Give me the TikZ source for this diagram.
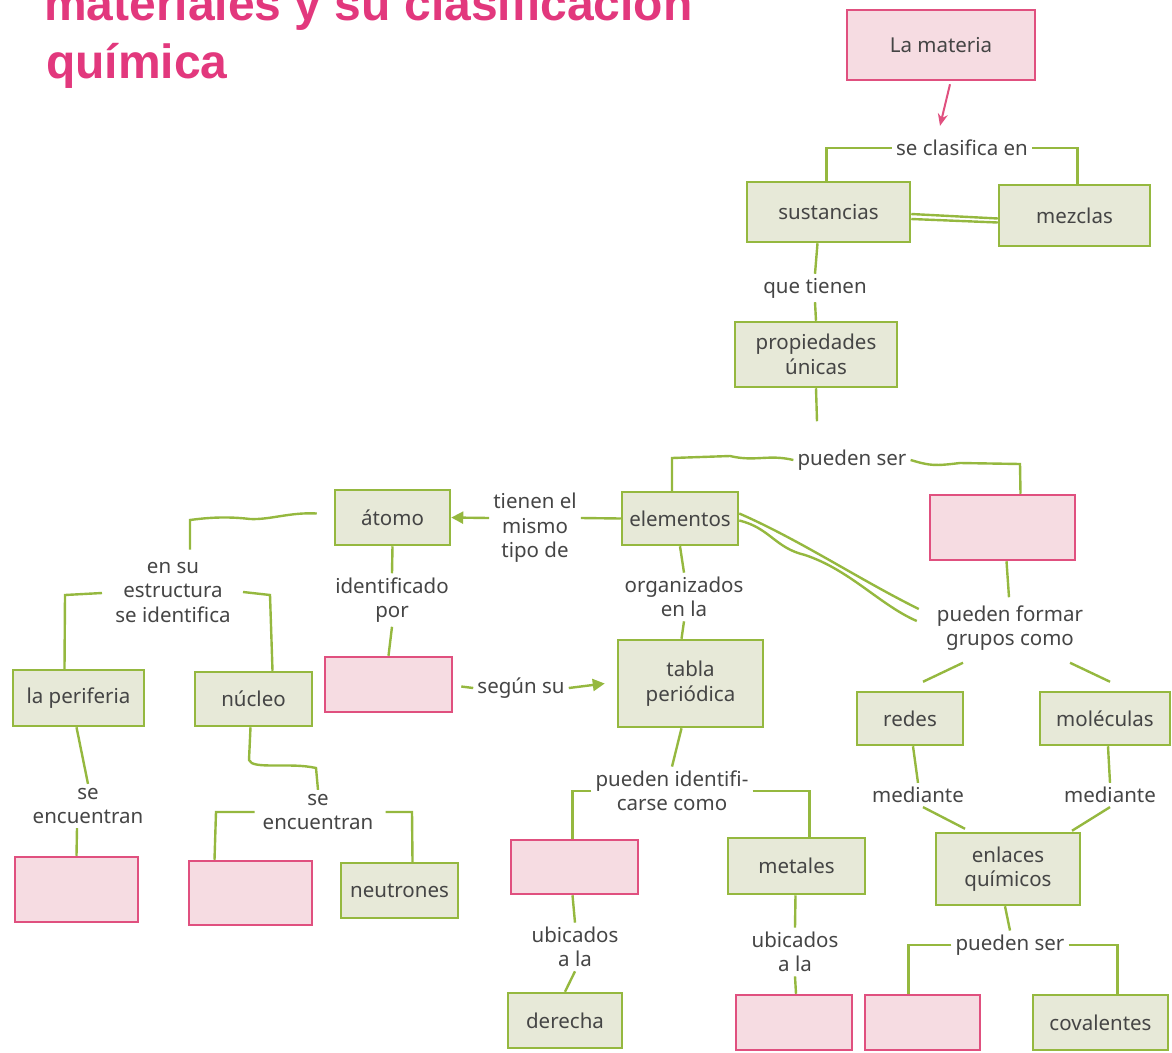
\documentclass[tikz,border=0pt]{standalone}
\usepackage{fontspec}
\setmainfont{Noto Sans}
\newfontfamily\titlefont{Liberation Sans}
\usetikzlibrary{calc,arrows.meta}
\definecolor{gline}{HTML}{95B83F}
\definecolor{gfill}{HTML}{E7E9D8}
\definecolor{pline}{HTML}{E0507F}
\definecolor{pfill}{HTML}{F6DCE2}
\definecolor{ttl}{HTML}{E2387D}
\definecolor{txt}{HTML}{454545}
\newcommand\lbl{\fontsize{20.5}{24.5}\selectfont}
\tikzset{
  box/.style={draw, line width=2.5pt, inner sep=0pt, align=center, text=txt, font=\lbl},
  gbox/.style={box, draw=gline, fill=gfill},
  pbox/.style={box, draw=pline, fill=pfill},
  sz/.style 2 args={minimum width=#1pt, minimum height=#2pt},
  lab/.style={text=txt, font=\lbl, align=center, inner sep=4pt},
  link/.style={draw=gline, line width=2.4pt},
  garrow/.style={link, -{Triangle[length=12pt,width=12pt]}},
  parrow/.style={draw=pline, line width=2pt, -{Stealth[length=12pt,width=10pt]}},
}
\begin{document}
\begin{tikzpicture}[x=1pt,y=-1pt]
\useasboundingbox (0,0) rectangle (1172,1052);

% title (its first line runs off the top edge)
\node[anchor=base west, inner sep=0pt, text=ttl, font=\titlefont\bfseries\fontsize{48}{58}\selectfont] (t1) at (44,20) {materiales y su clasificación};
\node[anchor=base west, inner sep=0pt, text=ttl, font=\titlefont\bfseries\fontsize{48}{58}\selectfont] (t2) at (46,78) {química};

% concept boxes
\node[pbox, sz={188}{70}] (mat) at (941,45) {La materia};
\node[gbox, sz={163}{60}] (sust) at (828.5,212) {sustancias};
\node[gbox, sz={151}{61}] (mez) at (1074.5,215.5) {mezclas};
\node[gbox, sz={162}{65}] (prop) at (816,354.5) {propiedades\\únicas};
\node[gbox, sz={116}{53}] (elem) at (680,518.5) {elementos};
\node[pbox, sz={145}{65}] (pk1) at (1002.5,527.5) {};
\node[gbox, sz={115}{55}] (atomo) at (392.5,517.5) {átomo};
\node[pbox, sz={127}{55}] (pk2) at (388.5,684.5) {};
\node[gbox, sz={145}{87}] (tabla) at (690.5,683.5) {tabla\\periódica};
\node[gbox, sz={131}{56}] (peri) at (78.5,698) {la periferia};
\node[gbox, sz={117}{54}] (nuc) at (253.5,699) {núcleo};
\node[pbox, sz={123}{65}] (pk3) at (76.5,889.5) {};
\node[pbox, sz={123}{64}] (pk4) at (250.5,893) {};
\node[gbox, sz={117}{55}] (neut) at (399.5,890.5) {neutrones};
\node[pbox, sz={127}{54}] (pk6) at (574.5,867) {};
\node[gbox, sz={137}{56}] (metal) at (796.5,866) {metales};
\node[gbox, sz={114}{55}] (der) at (565,1020.5) {derecha};
\node[pbox, sz={116}{55}] (pk7) at (794,1022.5) {};
\node[gbox, sz={106}{53}] (redes) at (910,718.5) {redes};
\node[gbox, sz={130}{53}] (molec) at (1105,718.5) {moléculas};
\node[gbox, sz={144}{72}] (enl) at (1008,869) {enlaces\\químicos};
\node[pbox, sz={115}{55}] (pk5) at (922.5,1022.5) {};
\node[gbox, sz={135}{55}] (cov) at (1100.5,1022.5) {covalentes};

% linking words
\node[lab] (secl) at (962,148) {se clasifica en};
\node[lab] (quet) at (815,288) {que tienen};
\node[lab] (pser) at (852,460) {pueden ser};
\node[lab] (tien) at (535,528) {tienen el\\mismo\\tipo de};
\node[lab] (ident) at (392,600) {identificado\\por};
\node[lab] (org) at (684,597) {organizados\\en la};
\node[lab] (segun) at (521,688) {según su};
\node[lab] (ensu) at (173,592) {en su\\estructura\\se identifica};
\node[lab] (seenc1) at (88,806) {se\\encuentran};
\node[lab] (seenc2) at (318,812) {se\\encuentran};
\node[lab] (pid) at (672,791) {pueden identifi-\\carse como};
\node[lab] (ubic1) at (575,947) {ubicados\\a la};
\node[lab] (ubic2) at (795,952) {ubicados\\a la};
\node[lab] (pform) at (1010,628) {pueden formar\\grupos como};
\node[lab] (med1) at (918,795) {mediante};
\node[lab] (med2) at (1110,795) {mediante};
\node[lab] (pser2) at (1010,945) {pueden ser};

\coordinate (propend) at ($(prop.south)+(1,33)$);

% connectors
\draw[parrow] ($(mat.south)+(9,3)$) -- ($(secl.north)+(-22,-10)$);
\draw[link] (secl.west) -| ($(sust.north)+(-2,0)$);
\draw[link] (secl.east) -| ($(mez.north)+(3,0)$);
\draw[link] ($(sust.east)+(0,2)$) -- ($(mez.west)+(0,3)$);
\draw[link] ($(sust.east)+(0,7)$) -- ($(mez.west)+(0,7)$);
\draw[link] ($(sust.south)+(-11,0)$) -- (quet.north);
\draw[link] (quet.south) -- (prop.north);
\draw[link] (prop.south) -- (propend);

\draw[link] (pser.west) .. controls +(-25,-6) and +(25,6) .. (730,456) -- (672,458) -- ($(elem.north)+(-8,0)$);
\draw[link] (pser.east) .. controls +(20,6) and +(-25,3) .. (960,463) -- (1020,464) -- ($(pk1.north)+(18,0)$);
\draw[link] ($(pk1.south)+(4,0)$) -- ($(pform.north)+(-1,-4)$);
\draw[link] ($(elem.east)+(0,-5)$) .. controls (800,540) and (860,580) .. ($(pform.west)+(-14,-19)$);
\draw[link] ($(elem.east)+(0,2)$) .. controls (770,528) and (775,548) .. (805,555) .. controls (850,570) and (880,605) .. ($(pform.west)+(-16,-7)$);

\draw[link] ($(pform.south)+(-47,8)$) -- ($(redes.north)+(13,-9)$);
\draw[link] ($(pform.south)+(60,8)$) -- ($(molec.north)+(5,-9)$);
\draw[link] ($(redes.south)+(3,0)$) -- (med1.north);
\draw[link] ($(molec.south)+(3,0)$) -- (med2.north);
\draw[link] ($(med1.south)+(5,0)$) -- ($(enl.north)+(-43,-3)$);
\draw[link] (med2.south) -- ($(enl.north)+(64,-1)$);
\draw[link] ($(enl.south)+(-3,0)$) -- (pser2.north);
\draw[link] (pser2.west) -| ($(pk5.north)+(-14,0)$);
\draw[link] (pser2.east) -| ($(cov.north)+(17,0)$);

\draw[link] (elem.west) -- ($(tien.east)+(0,-10)$);
\draw[garrow] ($(tien.west)+(0,-10)$) -- (atomo.east);
\draw[link] (elem.south) -- (org.north);
\draw[link] (org.south) -- ($(tabla.north)+(-9,0)$);
\draw[link] (atomo.south) -- (ident.north);
\draw[link] (ident.south) -- (pk2.north);
\draw[link] ($(pk2.east)+(8,2)$) -- (segun.west);
\draw[garrow] (segun.east) -- ($(tabla.west)+(-12,0)$);

\draw[link] ($(atomo.west)+(-17,-4)$) .. controls (290,512) and (270,520) .. (250,519) .. controls (225,516) and (205,518) .. (190,520) -- ($(ensu.north)+(17,-8)$);
\draw[link] ($(ensu.center)+(-71,1)$) -- (65,595) -- ($(peri.north)+(-14,0)$);
\draw[link] ($(ensu.center)+(70,0)$) -- (270,595) -- ($(nuc.north)+(19,0)$);
\draw[link] ($(peri.south)+(-2,0)$) -- (seenc1.north);
\draw[link] ($(seenc1.south)+(-11,0)$) -- (pk3.north);
\draw[link] ($(nuc.south)+(-3,0)$) -- (249,760) .. controls (252,770) and (290,762) .. (316,768) -- (seenc2.north);
\draw[link] ($(seenc2.west)+(-4,0)$) -- (216,812) -- ($(pk4.north)+(-36,0)$);
\draw[link] ($(seenc2.east)+(8,0)$) -- (412,812) -- ($(neut.north)+(13,0)$);

\draw[link] ($(tabla.south)+(-9,0)$) -- (pid.north);
\draw[link] (pid.west) -| ($(pk6.north)+(-2,0)$);
\draw[link] (pid.east) -| ($(metal.north)+(13,0)$);
\draw[link] ($(pk6.south)+(-2,0)$) -- (ubic1.north);
\draw[link] (ubic1.south) -- (der.north);
\draw[link] ($(metal.south)+(-1,0)$) -- (ubic2.north);
\draw[link] (ubic2.south) -- ($(pk7.north)+(2,0)$);
\end{tikzpicture}
\end{document}
